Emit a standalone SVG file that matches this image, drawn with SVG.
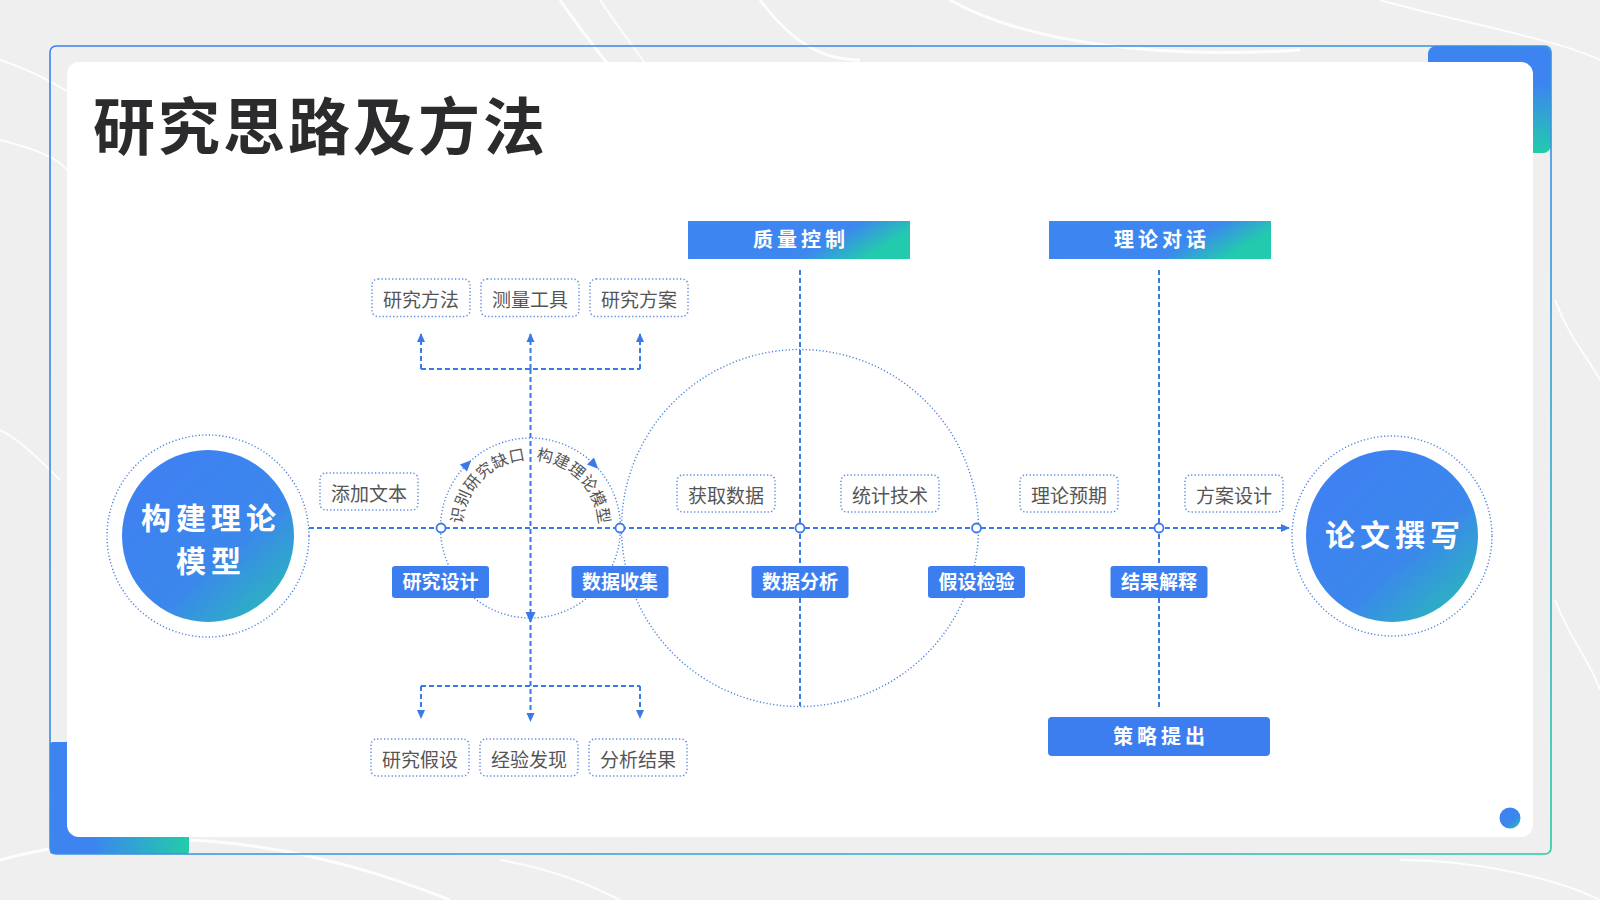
<svg xmlns="http://www.w3.org/2000/svg" width="1600" height="900" viewBox="0 0 1600 900">
<defs>
<linearGradient id="gCircle" x1="0.25" y1="0.2" x2="0.95" y2="1">
<stop offset="0" stop-color="#3e82f1"/><stop offset="0.5" stop-color="#3b87ec"/><stop offset="1" stop-color="#26c0b2"/>
</linearGradient>
<linearGradient id="gBar" x1="0" y1="0" x2="1" y2="0.3">
<stop offset="0" stop-color="#3d86f3"/><stop offset="0.72" stop-color="#3d87f0"/><stop offset="1" stop-color="#22cbad"/>
</linearGradient>
<linearGradient id="gFrame" x1="0" y1="0" x2="1" y2="1">
<stop offset="0" stop-color="#3b7ff0"/><stop offset="0.6" stop-color="#3694e0"/><stop offset="1" stop-color="#26caa6"/>
</linearGradient>
<linearGradient id="gV" x1="0" y1="0" x2="0" y2="1">
<stop offset="0" stop-color="#3d84f1"/><stop offset="0.35" stop-color="#3d84f1"/><stop offset="1" stop-color="#22ccaa"/>
</linearGradient>
<linearGradient id="gH" x1="0" y1="0" x2="1" y2="0">
<stop offset="0" stop-color="#3d84f1"/><stop offset="0.3" stop-color="#3d84f1"/><stop offset="1" stop-color="#22ccaa"/>
</linearGradient>
<marker id="arr" viewBox="0 0 10 10" refX="9" refY="5" markerWidth="9" markerHeight="9" markerUnits="userSpaceOnUse" orient="auto">
<path d="M0,0.5 L10,5 L0,9.5 z" fill="#3b78e8"/>
</marker>
<path id="arcText" d="M462.5,528 A68,68 0 0 1 598.5,528"/>
<style>
.dash{fill:none;stroke:#3b78e8;stroke-width:2;stroke-dasharray:5 3}
.dot{fill:none;stroke:#4a80e0;stroke-width:1.4;stroke-dasharray:1.2 2.2}
.tbox{fill:#fff;stroke:#5b8de6;stroke-width:1.5;stroke-dasharray:1.3 2.2}
.tlab{font-family:'Liberation Sans','Noto Sans CJK SC',sans-serif;font-size:19px;fill:#555;text-anchor:middle;dominant-baseline:central}
.blab{font-family:'Liberation Sans','Noto Sans CJK SC',sans-serif;font-size:19px;font-weight:bold;fill:#fff;text-anchor:middle;dominant-baseline:central}
.hlab{font-family:'Liberation Sans','Noto Sans CJK SC',sans-serif;font-size:20px;font-weight:bold;fill:#fff;text-anchor:middle;dominant-baseline:central;letter-spacing:4px}
.clab{font-family:'Liberation Sans','Noto Sans CJK SC',sans-serif;font-size:30px;font-weight:bold;fill:#fff;text-anchor:middle;dominant-baseline:central;letter-spacing:5px}
.bbox{fill:#3c7eef}
.junc{fill:#fff;stroke:#3b78e8;stroke-width:1.8}
.arctxt{font-family:'Liberation Sans','Noto Sans CJK SC',sans-serif;font-size:16px;fill:#555;letter-spacing:0.3px}
</style>
</defs>

<g id="background">
<rect x="0" y="0" width="1600" height="900" fill="#efefef"/>
<g fill="none" stroke="#ffffff" stroke-opacity="0.85">
<path d="M560,0 C600,60 660,120 700,200" stroke-width="3"/>
<path d="M600,0 C640,60 700,130 740,210" stroke-width="2"/>
<path d="M760,0 C790,40 820,60 860,60" stroke-width="3"/>
<path d="M950,0 C1020,40 1150,60 1300,50" stroke-width="3"/>
<path d="M1380,0 C1450,20 1560,40 1600,60" stroke-width="2"/>
<path d="M0,60 C60,80 120,120 160,180" stroke-width="2"/>
<path d="M0,140 C40,150 60,160 67,170" stroke-width="2"/>
<path d="M0,430 C20,440 40,460 60,480" stroke-width="2"/>
<path d="M0,860 C150,820 300,840 450,900" stroke-width="3"/>
<path d="M500,860 C560,870 600,890 620,900" stroke-width="2"/>
<path d="M1400,860 C1480,860 1560,880 1600,900" stroke-width="2"/>
<path d="M1555,300 C1570,340 1590,360 1600,380" stroke-width="2"/>
<path d="M1555,600 C1570,640 1590,660 1600,690" stroke-width="2"/>
</g>
</g>

<g id="frame">
<rect x="1428" y="46" width="123" height="107" rx="8" fill="url(#gV)"/>
<rect x="50" y="742" width="139" height="112" rx="3" fill="url(#gH)"/>
<rect x="50" y="46" width="1501" height="808" rx="6" fill="none" stroke="url(#gFrame)" stroke-width="1.6"/>
<rect x="67" y="62" width="1466" height="775" rx="12" fill="#ffffff"/>
<circle cx="1510" cy="818" r="10.5" fill="url(#gCircle)"/>
</g>

<g id="title">
<text x="93" y="150" font-family="'Liberation Sans','Noto Sans CJK SC',sans-serif" font-size="62" font-weight="bold" fill="#2b2b2d" letter-spacing="3">研究思路及方法</text>
</g>

<g id="connectors">
<circle cx="530.5" cy="528" r="90" class="dot"/>
<circle cx="800" cy="528" r="178.5" class="dot"/>
<path class="dash" d="M309,528 H1289" marker-end="url(#arr)"/>
<path class="dash" d="M530.5,369 V334" marker-end="url(#arr)"/>
<path class="dash" d="M530.5,369 V721" marker-end="url(#arr)"/>
<path class="dash" d="M421,369 H640"/>
<path class="dash" d="M421,369 V334" marker-end="url(#arr)"/>
<path class="dash" d="M640,369 V334" marker-end="url(#arr)"/>
<path class="dash" d="M421,686 H640"/>
<path class="dash" d="M421,686 V718" marker-end="url(#arr)"/>
<path class="dash" d="M640,686 V718" marker-end="url(#arr)"/>
<path class="dash" d="M800,270 V706"/>
<path class="dash" d="M1159,270 V708"/>
<path d="M-5,-5 L6,0 L-5,5 z" fill="#3b78e8" transform="translate(467,464.5) rotate(-45)"/>
<path d="M-5,-5 L6,0 L-5,5 z" fill="#3b78e8" transform="translate(594,464.5) rotate(45)"/>
<path d="M-5,-5 L6,0 L-5,5 z" fill="#3b78e8" transform="translate(530.5,617) rotate(90)"/>
<circle cx="441" cy="528" r="4.5" class="junc"/>
<circle cx="620" cy="528" r="4.5" class="junc"/>
<circle cx="800" cy="528" r="4.5" class="junc"/>
<circle cx="976.5" cy="528" r="4.5" class="junc"/>
<circle cx="1159" cy="528" r="4.5" class="junc"/>
<text class="arctxt"><textPath href="#arcText" startOffset="4">识别研究缺口</textPath></text>
<text class="arctxt"><textPath href="#arcText" startOffset="112">构建理论模型</textPath></text>
</g>

<g id="node-left">
<circle cx="208" cy="536" r="101" class="dot"/>
<circle cx="208" cy="536" r="86" fill="url(#gCircle)"/>
<text x="211" y="518" class="clab">构建理论</text>
<text x="211" y="561" class="clab">模型</text>
</g>

<g id="node-right">
<circle cx="1392" cy="536" r="100" class="dot"/>
<circle cx="1392" cy="536" r="86" fill="url(#gCircle)"/>
<text x="1395" y="535" class="clab">论文撰写</text>
</g>

<g id="node-zlkz"><rect x="688" y="221" width="222" height="38" fill="url(#gBar)"/><text x="801" y="240" class="hlab">质量控制</text></g>
<g id="node-lldh"><rect x="1049" y="221" width="222" height="38" fill="url(#gBar)"/><text x="1162" y="240" class="hlab">理论对话</text></g>
<g id="node-cltc"><rect x="1048" y="717" width="222" height="39" rx="4" class="bbox"/><text x="1161" y="736.5" class="hlab">策略提出</text></g>

<g id="node-yjff"><rect x="372" y="279" width="98" height="37.5" rx="6" class="tbox"/><text x="421" y="300" class="tlab">研究方法</text></g>
<g id="node-clgj"><rect x="481" y="279" width="98" height="37.5" rx="6" class="tbox"/><text x="530" y="300" class="tlab">测量工具</text></g>
<g id="node-yjfa"><rect x="590" y="279" width="98" height="37.5" rx="6" class="tbox"/><text x="639" y="300" class="tlab">研究方案</text></g>

<g id="node-yjjs"><rect x="371" y="739" width="98" height="37" rx="6" class="tbox"/><text x="420" y="760" class="tlab">研究假设</text></g>
<g id="node-jyfx"><rect x="480" y="739" width="98" height="37" rx="6" class="tbox"/><text x="529" y="760" class="tlab">经验发现</text></g>
<g id="node-fxjg"><rect x="589" y="739" width="98" height="37" rx="6" class="tbox"/><text x="638" y="760" class="tlab">分析结果</text></g>

<g id="node-tjwb"><rect x="320" y="473" width="98" height="37" rx="6" class="tbox"/><text x="369" y="494" class="tlab">添加文本</text></g>
<g id="node-hqsj"><rect x="677" y="475" width="98" height="37" rx="6" class="tbox"/><text x="726" y="496" class="tlab">获取数据</text></g>
<g id="node-tjjs"><rect x="841" y="475" width="98" height="37" rx="6" class="tbox"/><text x="890" y="496" class="tlab">统计技术</text></g>
<g id="node-llyq"><rect x="1020" y="475" width="98" height="37" rx="6" class="tbox"/><text x="1069" y="496" class="tlab">理论预期</text></g>
<g id="node-fasj"><rect x="1185" y="475" width="98" height="37" rx="6" class="tbox"/><text x="1234" y="496" class="tlab">方案设计</text></g>

<g id="node-yjsj"><rect x="392" y="566" width="97" height="32" rx="3" class="bbox"/><text x="440.5" y="582" class="blab">研究设计</text></g>
<g id="node-sjsj"><rect x="571.5" y="566" width="97" height="32" rx="3" class="bbox"/><text x="620" y="582" class="blab">数据收集</text></g>
<g id="node-sjfx"><rect x="751.5" y="566" width="97" height="32" rx="3" class="bbox"/><text x="800" y="582" class="blab">数据分析</text></g>
<g id="node-jsjy"><rect x="928" y="566" width="97" height="32" rx="3" class="bbox"/><text x="976.5" y="582" class="blab">假设检验</text></g>
<g id="node-jgjs"><rect x="1110.5" y="566" width="97" height="32" rx="3" class="bbox"/><text x="1159" y="582" class="blab">结果解释</text></g>
</svg>
